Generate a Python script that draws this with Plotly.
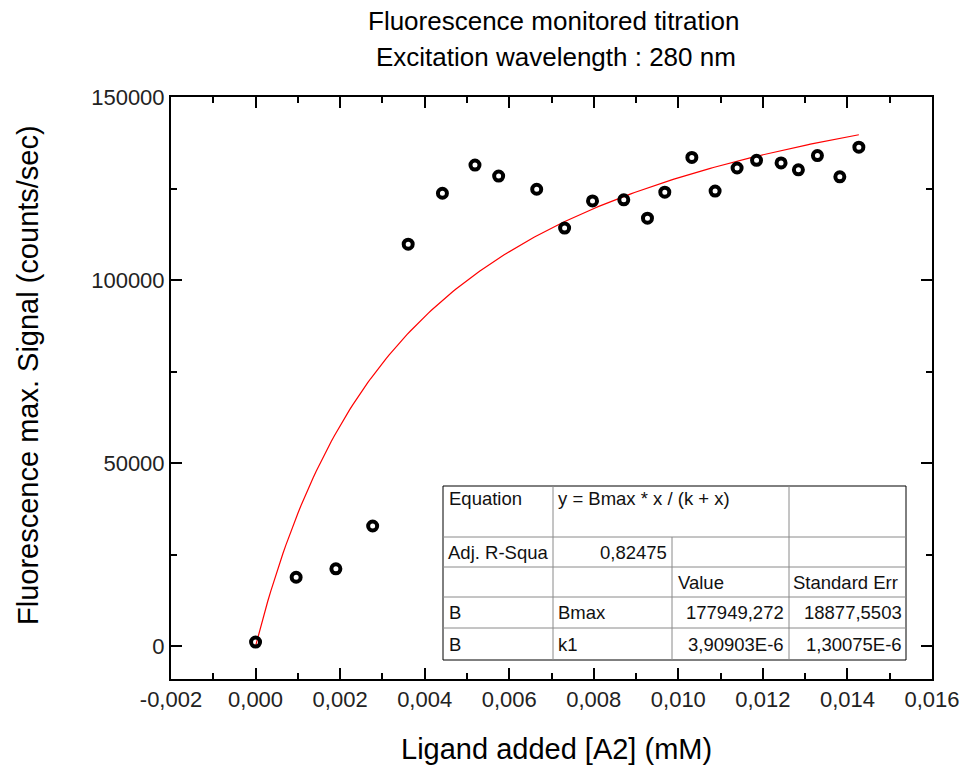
import numpy as np
import plotly.graph_objects as go

# Titration data: ligand added (mM) and fluorescence maximum signal (counts/sec)
ligand_mM = [0.0, 0.00096, 0.00190, 0.00277, 0.00361, 0.00442, 0.00519, 0.00575,
             0.00665, 0.00731, 0.00797, 0.00871, 0.00927, 0.00968, 0.01032,
             0.01087, 0.01139, 0.01185, 0.01243, 0.01284, 0.01329, 0.01382, 0.01427]
signal = [1100, 18800, 21100, 32800, 109800, 123700, 131400, 128400,
          124800, 114200, 121600, 121900, 116900, 124000, 133500,
          124300, 130600, 132700, 132000, 130100, 134000, 128200, 136300]

# Fit parameters (k reported in M; data in mM)
Bmax = 177949.272
Bmax_err = 18877.5503
k1_M = 3.90903e-6
k1_err_M = 1.30075e-6
adj_r2 = 0.82475

x_ticks = [-0.002, 0.0, 0.002, 0.004, 0.006, 0.008, 0.010, 0.012, 0.014, 0.016]
x_tick_labels = ["-0,002", "0,000", "0,002", "0,004", "0,006", "0,008",
                 "0,010", "0,012", "0,014", "0,016"]
y_ticks = [0, 50000, 100000, 150000]
y_tick_labels = ["0", "50000", "100000", "150000"]

k1_mM = k1_M * 1000.0
x_fit = np.linspace(0.0, ligand_mM[-1], 200)
y_fit = Bmax * x_fit / (k1_mM + x_fit)

FONT = "Liberation Sans, Arial, sans-serif"

fig = go.Figure()
fig.add_trace(go.Scatter(x=x_fit, y=y_fit, mode="lines",
                         line=dict(color="#ff0000", width=1.2),
                         hoverinfo="skip", showlegend=False))
fig.add_trace(go.Scatter(x=ligand_mM, y=signal, mode="markers",
                         marker=dict(symbol="circle-open", size=9, color="black",
                                     line=dict(color="black", width=4)),
                         showlegend=False))

W, H = 963, 775
L, R, T, B = 171, 31, 97, 96
pw, ph = W - L - R, H - T - B


def px(xp):
    return (xp - L) / pw


def py(yp):
    return (H - B - yp) / ph


# Parameter table drawn in the lower right of the plot area
cols = [443, 553, 672, 789, 906]
rows = [486, 537, 567, 597, 628, 660]
shapes = []
inner = dict(color="#8a8a8a", width=1)


def hline(y, x0, x1, line):
    shapes.append(dict(type="line", xref="paper", yref="paper",
                       x0=px(x0), x1=px(x1), y0=py(y), y1=py(y), line=line))


def vline(x, y0, y1, line):
    shapes.append(dict(type="line", xref="paper", yref="paper",
                       x0=px(x), x1=px(x), y0=py(y0), y1=py(y1), line=line))


shapes.append(dict(type="rect", xref="paper", yref="paper",
                   x0=px(cols[0]), x1=px(cols[4]), y0=py(rows[5]), y1=py(rows[0]),
                   line=dict(color="black", width=1), fillcolor="white", layer="above"))
for r in rows[1:5]:
    hline(r, cols[0], cols[4], inner)
vline(cols[1], rows[0], rows[5], inner)
vline(cols[2], rows[1], rows[5], inner)
vline(cols[3], rows[0], rows[5], inner)


def fmt(v, nd):
    return f"{v:.{nd}f}".replace(".", ",")


def fmt_e(v):
    m, e = f"{v:.5E}".split("E")
    return f"{m.replace('.', ',')}E{int(e)}"


cells = [
    ("Equation", cols[0] + 4, (rows[0] + 12), "left"),
    ("y = Bmax * x / (k + x)", cols[1] + 3, (rows[0] + 12), "left"),
    ("Adj. R-Squa", cols[0] + 3, (rows[1] + rows[2]) / 2, "left"),
    (fmt(adj_r2, 5), cols[2] - 3, (rows[1] + rows[2]) / 2, "right"),
    ("Value", cols[2] + 4, (rows[2] + rows[3]) / 2, "left"),
    ("Standard Err", cols[3] + 2, (rows[2] + rows[3]) / 2, "left"),
    ("B", cols[0] + 4, (rows[3] + rows[4]) / 2, "left"),
    ("Bmax", cols[1] + 3, (rows[3] + rows[4]) / 2, "left"),
    (fmt(Bmax, 3), cols[3] - 3, (rows[3] + rows[4]) / 2, "right"),
    (fmt(Bmax_err, 4), cols[4] - 2, (rows[3] + rows[4]) / 2, "right"),
    ("B", cols[0] + 4, (rows[4] + rows[5]) / 2, "left"),
    ("k1", cols[1] + 3, (rows[4] + rows[5]) / 2, "left"),
    (fmt_e(k1_M), cols[3] - 3, (rows[4] + rows[5]) / 2, "right"),
    (fmt_e(k1_err_M), cols[4] - 2, (rows[4] + rows[5]) / 2, "right"),
]
annotations = []
for text, x, y, anchor in cells:
    annotations.append(dict(text=text, xref="paper", yref="paper", x=px(x), y=py(y),
                            xanchor=anchor, yanchor="middle", showarrow=False,
                            font=dict(family=FONT, size=18.5, color="#111")))

# Titles
annotations += [
    dict(text="Fluorescence monitored titration", xref="paper", yref="paper",
         x=px(553), y=py(21), xanchor="center", yanchor="middle", showarrow=False,
         font=dict(family=FONT, size=26, color="black")),
    dict(text="Excitation wavelength : 280 nm", xref="paper", yref="paper",
         x=px(556), y=py(57), xanchor="center", yanchor="middle", showarrow=False,
         font=dict(family=FONT, size=26, color="black")),
    dict(text="Ligand added [A2] (mM)", xref="paper", yref="paper",
         x=px(556), y=py(749), xanchor="center", yanchor="middle", showarrow=False,
         font=dict(family=FONT, size=29, color="black")),
    dict(text="Fluorescence max. Signal (counts/sec)", xref="paper", yref="paper",
         x=px(28), y=py(375), xanchor="center", yanchor="middle", showarrow=False,
         textangle=-90, font=dict(family=FONT, size=29, color="black")),
]

axis_common = dict(showline=True, linecolor="black", linewidth=2, mirror="ticks",
                   ticks="inside", ticklen=11, tickwidth=2, tickcolor="black",
                   showgrid=False, zeroline=False, automargin=False,
                   tickfont=dict(family=FONT, size=22, color="#222"))

fig.update_layout(
    width=W, height=H,
    margin=dict(l=L, r=R, t=T, b=B, autoexpand=False),
    paper_bgcolor="white", plot_bgcolor="white",
    xaxis=dict(range=[-0.002, 0.016], tickmode="array", tickvals=x_ticks,
               ticktext=x_tick_labels,
               minor=dict(ticks="inside", ticklen=6, tickwidth=2, tickcolor="black",
                          dtick=0.001, showgrid=False),
               **axis_common),
    yaxis=dict(range=[-9000, 150000], tickmode="array", tickvals=y_ticks,
               ticktext=y_tick_labels,
               minor=dict(ticks="inside", ticklen=6, tickwidth=2, tickcolor="black",
                          dtick=25000, tick0=0, showgrid=False),
               **axis_common),
    shapes=shapes,
    annotations=annotations,
)

fig.write_html("out.html")
